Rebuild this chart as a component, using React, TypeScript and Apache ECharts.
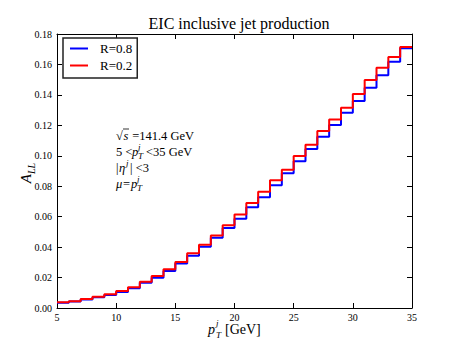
import React, { useEffect, useRef } from "react";
import * as echarts from "echarts";

// Bin lower edges (GeV); last bin ends at 35
const binLow = [5, 6, 7, 8, 9, 10, 11, 12, 13, 14, 15, 16, 17, 18, 19, 20, 21, 22, 23, 24, 25, 26, 27, 28, 29, 30, 31, 32, 33, 34];
const binEnd = 35;

// A_LL for R=0.8 (blue)
const r08 = [0.0035, 0.0042, 0.0056, 0.0070, 0.0086, 0.0105, 0.0130, 0.0166, 0.0199, 0.0243, 0.0293, 0.0343, 0.0402, 0.0462, 0.0526, 0.0587, 0.0662, 0.0727, 0.0806, 0.0885, 0.0964, 0.1045, 0.1125, 0.1203, 0.1283, 0.1360, 0.1447, 0.1529, 0.1618, 0.1706];
// A_LL for R=0.2 (red)
const r02 = [0.0037, 0.0045, 0.0059, 0.0074, 0.0091, 0.0111, 0.0136, 0.0173, 0.0211, 0.0255, 0.0303, 0.0360, 0.0415, 0.0477, 0.0543, 0.0615, 0.0690, 0.0764, 0.0839, 0.0909, 0.0999, 0.1072, 0.1163, 0.1238, 0.1316, 0.1406, 0.1498, 0.1579, 0.1649, 0.1715];

const seriesNames = ["R=0.8", "R=0.2"];
const seriesColors = ["#0000ff", "#ff0000"];

const xMin = 5, xMax = 35, xInterval = 5;
const yMin = 0, yMax = 0.18, yInterval = 0.02;

const FONT = '"Liberation Serif", "Times New Roman", serif';

function stepData(vals: number[]) {
  const d: number[][] = binLow.map((x, i) => [x, vals[i]]);
  d.push([binEnd, vals[vals.length - 1]]);
  return d;
}

function txt(x: number, y: number, text: string, size: number, italic = false, align = "left") {
  return {
    type: "text",
    x,
    y,
    silent: true,
    style: {
      text,
      fontSize: size,
      fontFamily: FONT,
      fontStyle: italic ? "italic" : "normal",
      fill: "#000",
      align,
      verticalAlign: "middle",
    },
  };
}

export default function App() {
  const ref = useRef<HTMLDivElement>(null);
  useEffect(() => {
    if (!ref.current) return;
    const chart = echarts.init(ref.current, null, { renderer: "svg" });
    const axisCommon = {
      type: "value",
      axisLine: { show: true, onZero: false, lineStyle: { color: "#000", width: 1 } },
      axisTick: { show: true, inside: true, length: 5, lineStyle: { color: "#000", width: 1 } },
      splitLine: { show: false },
    };
    const fs = 12.5;
    const fsSmall = 9;
    const option: any = {
      animation: false,
      backgroundColor: "#fff",
      title: {
        text: "EIC inclusive jet production",
        left: 234,
        top: 10,
        textAlign: "center",
        textStyle: { fontFamily: FONT, fontSize: 16, fontWeight: "normal", color: "#000" },
      },
      grid: { left: 57, right: 45, top: 34, bottom: 35, containLabel: false },
      legend: {
        left: 63,
        top: 38,
        orient: "vertical",
        data: seriesNames,
        icon: "rect",
        itemWidth: 18,
        itemHeight: 2,
        itemGap: 4,
        padding: [4, 5, 6, 7],
        borderColor: "#222",
        borderWidth: 1.5,
        backgroundColor: "#fff",
        textStyle: { fontFamily: FONT, fontSize: 13, color: "#000", lineHeight: 12, padding: [0, 0, 0, 7] },
      },
      xAxis: [
        {
          ...axisCommon,
          position: "bottom",
          min: xMin,
          max: xMax,
          interval: xInterval,
          axisLabel: { fontFamily: FONT, fontSize: 10, color: "#000", margin: 4 },
        },
        {
          ...axisCommon,
          position: "top",
          min: xMin,
          max: xMax,
          interval: xInterval,
          axisLabel: { show: false },
        },
      ],
      yAxis: [
        {
          ...axisCommon,
          position: "left",
          min: yMin,
          max: yMax,
          interval: yInterval,
          axisLabel: {
            fontFamily: FONT,
            fontSize: 10,
            color: "#000",
            margin: 5,
            formatter: (v: number) => v.toFixed(2),
          },
        },
        {
          ...axisCommon,
          position: "right",
          min: yMin,
          max: yMax,
          interval: yInterval,
          axisLabel: { show: false },
        },
      ],
      series: [r08, r02].map((vals, i) => ({
        name: seriesNames[i],
        type: "line",
        step: "end",
        data: stepData(vals),
        showSymbol: false,
        symbol: "none",
        lineStyle: { color: seriesColors[i], width: 2 },
        itemStyle: { color: seriesColors[i] },
        z: 2 + i,
      })),
      graphic: [
        // annotation block
        txt(116, 136, "\u221A", fs),
        { type: "line", silent: true, shape: { x1: 123, y1: 129, x2: 129, y2: 129 }, style: { stroke: "#000", lineWidth: 0.8 } },
        txt(123.5, 136, "s", fs, true),
        txt(129, 136, " =141.4 GeV", fs),

        txt(116, 152, "5 <", fs),
        txt(132, 152, "p", fs, true),
        txt(138, 147, "j", fsSmall, true),
        txt(138, 156, "T", fsSmall, true),
        txt(146, 152, "<35 GeV", fs),

        txt(116, 168, "|", fs),
        txt(119, 168, "\u03B7", fs, true),
        txt(126, 163, "j", fsSmall, true),
        txt(130, 168, "| <3", fs),

        txt(116, 184, "\u03BC", fs, true),
        txt(123, 184, "=", fs),
        txt(131, 184, "p", fs, true),
        txt(137, 179, "j", fsSmall, true),
        txt(137, 188, "T", fsSmall, true),

        // x axis name
        txt(208, 329, "p", 14, true),
        txt(216, 323, "j", 9, true),
        txt(216, 335, "T", 9, true),
        txt(225, 329, "[GeV]", 14),

        // y axis name (rotated)
        {
          type: "group",
          x: 26,
          y: 174,
          rotation: Math.PI / 2,
          children: [
            txt(0, 0, "A", 15, true, "right"),
            txt(0, 5, "LL", 10, true, "left"),
          ],
        },
      ],
    };
    chart.setOption(option);
    return () => chart.dispose();
  }, []);
  return (
    <div
      ref={ref}
      style={{ position: "fixed", left: 0, top: 0, width: 457, height: 343 }}
    />
  );
}
